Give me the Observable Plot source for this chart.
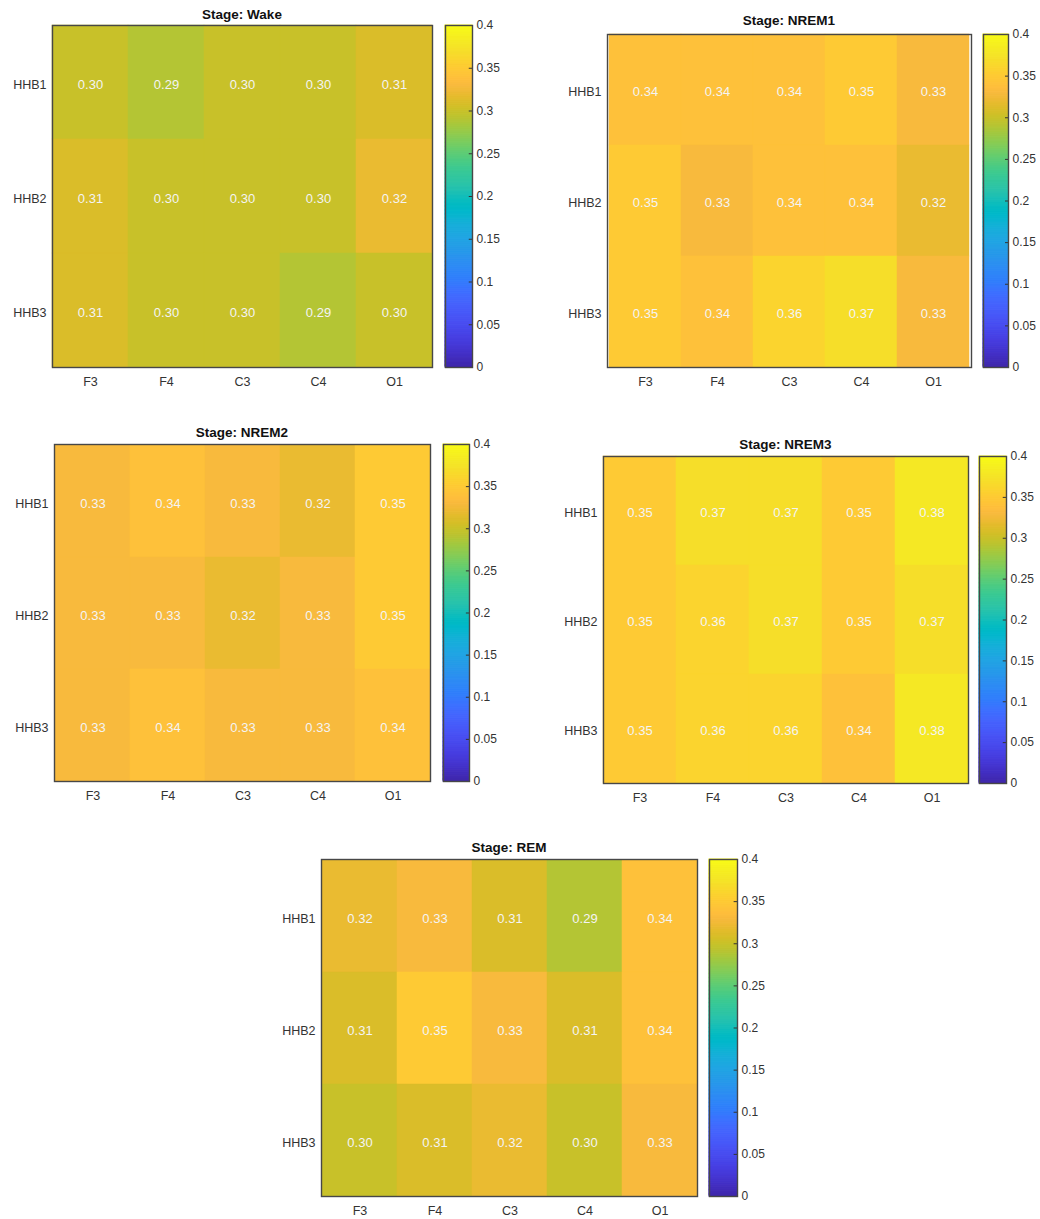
<!DOCTYPE html>
<html>
<head>
<meta charset="utf-8">
<script src="https://cdn.jsdelivr.net/npm/d3@7"></script>
<script src="https://cdn.jsdelivr.net/npm/@observablehq/plot@0.6"></script>
<style>
  html, body { margin: 0; padding: 0; background: #fff; }
  #figure { position: relative; width: 1040px; height: 1219px; background: #fff; overflow: hidden; }
  .panel-title {
    position: absolute; text-align: center;
    font: bold 13.5px "Liberation Sans", Arial, sans-serif; color: #111;
    line-height: 16px; white-space: nowrap;
  }
  .abs { position: absolute; }
</style>
</head>
<body>
<div id="figure"></div>
<script>
// Electrode sites (columns) and HbR channels (rows)
const sensors = ["F3", "F4", "C3", "C4", "O1"];
const channels = ["HHB1", "HHB2", "HHB3"];

// Mean values per sleep stage, one row per channel, one column per sensor
const wake = [
  [0.30, 0.29, 0.30, 0.30, 0.31],
  [0.31, 0.30, 0.30, 0.30, 0.32],
  [0.31, 0.30, 0.30, 0.29, 0.30]
];
const nrem1 = [
  [0.34, 0.34, 0.34, 0.35, 0.33],
  [0.35, 0.33, 0.34, 0.34, 0.32],
  [0.35, 0.34, 0.36, 0.37, 0.33]
];
const nrem2 = [
  [0.33, 0.34, 0.33, 0.32, 0.35],
  [0.33, 0.33, 0.32, 0.33, 0.35],
  [0.33, 0.34, 0.33, 0.33, 0.34]
];
const nrem3 = [
  [0.35, 0.37, 0.37, 0.35, 0.38],
  [0.35, 0.36, 0.37, 0.35, 0.37],
  [0.35, 0.36, 0.36, 0.34, 0.38]
];
const rem = [
  [0.32, 0.33, 0.31, 0.29, 0.34],
  [0.31, 0.35, 0.33, 0.31, 0.34],
  [0.30, 0.31, 0.32, 0.30, 0.33]
];

const stageNames = ["Wake", "NREM1", "NREM2", "NREM3", "REM"];
const stageValues = [wake, nrem1, nrem2, nrem3, rem];

// Colour bar range and tick labels
const colorDomain = [0, 0.4];
const colorTicks = [0, 0.05, 0.1, 0.15, 0.2, 0.25, 0.3, 0.35, 0.4];

// Parula colour map (64 steps)
const parula = [
  [0.2422,0.1504,0.6603],[0.2504,0.1650,0.7076],[0.2578,0.1818,0.7511],[0.2647,0.1978,0.7952],
  [0.2706,0.2147,0.8364],[0.2751,0.2342,0.8710],[0.2783,0.2559,0.8991],[0.2803,0.2782,0.9221],
  [0.2813,0.3006,0.9414],[0.2810,0.3228,0.9579],[0.2795,0.3447,0.9717],[0.2760,0.3667,0.9829],
  [0.2699,0.3892,0.9906],[0.2602,0.4123,0.9952],[0.2440,0.4358,0.9988],[0.2206,0.4603,0.9973],
  [0.1963,0.4847,0.9892],[0.1834,0.5074,0.9798],[0.1786,0.5289,0.9705],[0.1764,0.5499,0.9520],
  [0.1687,0.5703,0.9359],[0.1540,0.5902,0.9218],[0.1460,0.6091,0.9079],[0.1380,0.6276,0.8973],
  [0.1248,0.6459,0.8883],[0.1113,0.6635,0.8763],[0.0952,0.6798,0.8598],[0.0689,0.6948,0.8394],
  [0.0297,0.7082,0.8163],[0.0036,0.7203,0.7917],[0.0067,0.7312,0.7660],[0.0433,0.7411,0.7394],
  [0.0964,0.7500,0.7120],[0.1408,0.7584,0.6842],[0.1717,0.7670,0.6554],[0.1938,0.7758,0.6251],
  [0.2161,0.7843,0.5923],[0.2470,0.7918,0.5567],[0.2906,0.7973,0.5188],[0.3406,0.8008,0.4789],
  [0.3909,0.8029,0.4354],[0.4456,0.8024,0.3909],[0.5044,0.7993,0.3480],[0.5616,0.7942,0.3045],
  [0.6174,0.7876,0.2612],[0.6720,0.7793,0.2227],[0.7242,0.7698,0.1910],[0.7738,0.7598,0.1646],
  [0.8203,0.7498,0.1535],[0.8634,0.7406,0.1596],[0.9035,0.7330,0.1774],[0.9393,0.7288,0.2100],
  [0.9728,0.7298,0.2394],[0.9956,0.7434,0.2371],[0.9970,0.7659,0.2199],[0.9952,0.7893,0.2028],
  [0.9892,0.8136,0.1885],[0.9786,0.8386,0.1766],[0.9676,0.8639,0.1643],[0.9610,0.8890,0.1537],
  [0.9597,0.9135,0.1423],[0.9628,0.9373,0.1265],[0.9691,0.9606,0.1064],[0.9769,0.9839,0.0805]
];

// Placement of each panel on the page: heat-map frame box and colour-bar box
const layout = {
  Wake:  { left: 52,  right: 432, top: 25,  bottom: 367, cbLeft: 445, cbRight: 472, titleY: 15 },
  NREM1: { left: 607, right: 971, top: 34,  bottom: 367, cbLeft: 983, cbRight: 1008, titleY: 21 },
  NREM2: { left: 54,  right: 430, top: 444, bottom: 781, cbLeft: 443, cbRight: 469, titleY: 433 },
  NREM3: { left: 603, right: 968, top: 456, bottom: 783, cbLeft: 979, cbRight: 1006, titleY: 445 },
  REM:   { left: 321, right: 697, top: 859, bottom: 1196, cbLeft: 709, cbRight: 737, titleY: 848 }
};

const FONT = '"Liberation Sans", Arial, Helvetica, sans-serif';
const AXIS_GRAY = "#333333";
const FRAME_GRAY = "#474747";

const colorScale = {
  type: "linear",
  domain: parula.map((_, i) => colorDomain[0] + (colorDomain[1] - colorDomain[0]) * i / (parula.length - 1)),
  range: parula.map(([r, g, b]) => d3.rgb(r * 255, g * 255, b * 255).formatHex()),
  interpolate: "rgb",
  clamp: true
};

const figure = document.getElementById("figure");

function place(el, left, top) {
  el.classList.add("abs");
  el.style.left = left + "px";
  el.style.top = top + "px";
  figure.appendChild(el);
}

stageNames.forEach((name, k) => {
  const box = layout[name];
  const values = stageValues[k];
  const cells = [];
  channels.forEach((ch, i) => sensors.forEach((s, j) => cells.push({ channel: ch, sensor: s, value: values[i][j] })));

  const mL = 60, mR = 1, mT = 1, mB = 30;
  const fw = box.right - box.left, fh = box.bottom - box.top;

  const heat = Plot.plot({
    width: fw + mL + mR,
    height: fh + mT + mB,
    marginLeft: mL, marginRight: mR, marginTop: mT, marginBottom: mB,
    style: { fontFamily: FONT, fontSize: "12px", color: AXIS_GRAY, background: "transparent", overflow: "visible" },
    x: { domain: sensors, padding: 0, label: null, axis: null },
    y: { domain: channels, padding: 0, label: null, axis: null },
    color: colorScale,
    marks: [
      Plot.cell(cells, { x: "sensor", y: "channel", fill: "value", stroke: "value", strokeWidth: 0.5, inset: 0 }),
      Plot.text(cells, { x: "sensor", y: "channel", dy: 2, text: d => d.value.toFixed(2), fill: "#f4f4f4", fontSize: 13 }),
      Plot.axisX({ anchor: "bottom", tickSize: 0, tickPadding: 10, fontSize: 12.5 }),
      Plot.axisY({ anchor: "left", tickSize: 0, tickPadding: 6, dy: 2, fontSize: 12.5 }),
      Plot.frame({ stroke: FRAME_GRAY, strokeWidth: 1.4 })
    ]
  });
  place(heat, box.left - mL, box.top - mT);

  // Colour bar beside the heat map
  const cbW = box.cbRight - box.cbLeft;
  const cmT = 8, cmB = 8, cmR = 40;
  const steps = d3.range(256).map(i => [colorDomain[1] * i / 256, colorDomain[1] * (i + 1) / 256]);
  const bar = Plot.plot({
    width: cbW + 1 + cmR,
    height: fh + cmT + cmB,
    marginLeft: 1, marginRight: cmR, marginTop: cmT, marginBottom: cmB,
    style: { fontFamily: FONT, fontSize: "12px", color: AXIS_GRAY, background: "transparent", overflow: "visible" },
    x: { domain: [0, 1], axis: null },
    y: { domain: colorDomain, axis: null },
    color: colorScale,
    marks: [
      Plot.rect(steps, { x1: () => 0, x2: () => 1, y1: d => d[0], y2: d => d[1],
        fill: d => (d[0] + d[1]) / 2, stroke: d => (d[0] + d[1]) / 2, strokeWidth: 1 }),
      Plot.ruleY(colorTicks, { x1: () => 0.88, x2: () => 1, stroke: "#333", strokeWidth: 1 }),
      Plot.axisY(colorTicks, { anchor: "right", tickSize: 0, tickPadding: 4, tickFormat: d => String(+d.toFixed(2)), fontSize: 12 }),
      Plot.frame({ stroke: FRAME_GRAY, strokeWidth: 1.4 })
    ]
  });
  place(bar, box.cbLeft - 1, box.top - cmT);

  const title = document.createElement("div");
  title.className = "panel-title";
  title.textContent = "Stage: " + name;
  title.style.width = fw + "px";
  figure.appendChild(title);
  title.style.left = box.left + "px";
  title.style.top = (box.titleY - 8) + "px";
});
</script>
</body>
</html>
